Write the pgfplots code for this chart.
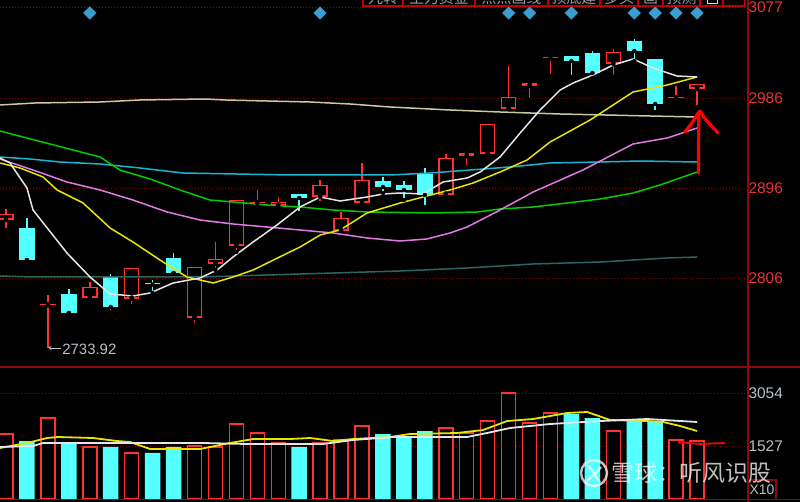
\documentclass[border=0pt]{standalone}
\usepackage{pgfplots}
\pgfplotsset{compat=1.18}
\usepackage{pgfplotstable}
\usepackage{fontspec}
\setmainfont{Liberation Sans}
\newfontfamily\cjk{Noto Sans CJK SC}
\usetikzlibrary{arrows.meta}

\definecolor{cred}{HTML}{FF3232}
\definecolor{ccyan}{HTML}{54FFFF}
\definecolor{gridred}{HTML}{8C0000}
\definecolor{frame}{HTML}{8C0A0A}
\definecolor{lblred}{HTML}{E83333}
\definecolor{lblgray}{HTML}{B8C0C8}
\definecolor{ma5}{HTML}{E6E6E6}
\definecolor{ma10}{HTML}{E6E600}
\definecolor{ma20}{HTML}{E07AE0}
\definecolor{ma30}{HTML}{00CC00}
\definecolor{ma60}{HTML}{18B4D4}
\definecolor{ma120}{HTML}{2C6464}
\definecolor{ma250}{HTML}{CACAA2}
\definecolor{dia}{HTML}{3A9FD0}

% candles: index open high low close
\pgfplotstableread{
i o h l c
0 2864 2875 2854 2870
2 2778.5 2789 2733.92 2779.5
4 2786 2802 2784 2797
6 2785 2816 2778 2816
9 2766 2817 2759 2817
10 2820 2842 2814 2825
11 2838 2884 2832 2884
12 2880.5 2894 2877 2881.5
13 2878 2887 2875 2882
15 2887 2904 2881 2899
16 2853 2872 2853 2866
17 2881 2921 2881 2904
21 2889 2930 2886 2926
22 2928 2931 2917 2931
23 2930 2960 2927 2960
24 2975 3018 2975 2987
25 2998 3001 2984 3001
26 3025.5 3026.5 3008 3026.5
29 3020 3035 3007 3032
32 2985.5 2998 2985.5 2986.5
33 2995 3000 2977 3000
}\redk
\pgfplotstableread{
i o h l c
1 2856 2866 2824 2824
3 2790 2795 2771 2771
5 2807 2810 2772 2777
7 2800.5 2804 2791 2799.5
8 2826 2831 2811 2811
14 2890 2890 2871 2886
18 2903 2907 2891 2897
19 2899 2903 2884 2894
20 2910 2916 2877 2889
27 3028 3028 3007 3023
28 3031 3033 3006 3011
30 3043 3045 3023 3033
31 3025 3025 2972 2980
}\cyank
% volumes
\pgfplotstableread{
i v
0 1872
2 2333
4 1498
6 1325
9 1526
10 1498
11 2160
12 1901
13 1613
15 1613
16 1699
17 2102
21 2045
22 1901
23 2246
24 3053
25 2189
26 2477
29 1958
32 1699
33 1670
}\redv
\pgfplotstableread{
i v
1 1670
3 1613
5 1498
7 1325
8 1498
14 1498
18 1872
19 1814
20 1958
27 2448
28 2333
30 2246
31 2246
}\cyanv

\pgfplotsset{kstyle/.style={scale only axis, width=748bp, xmin=-0.287, xmax=35.43,
  axis line style={draw=none}, xtick=\empty, major tick length=0pt,
  ymajorgrids, grid style={gridred, line width=0.9bp, dash pattern=on 1bp off 2bp},
  yticklabel pos=right, ytick pos=right,
  yticklabel style={font=\fontsize{15.5}{16}\selectfont, xshift=-3bp},
  clip=true},
  wick/.style={only marks, mark=none, error bars/.cd, y dir=plus, y explicit, error mark=none,
    error bar style={draw=#1, line width=1.5bp, line cap=butt}},
  body/.style={only marks, mark=none, error bars/.cd, y dir=plus, y explicit, error mark=none,
    error bar style={draw=#1, line width=15.5bp, line cap=butt}},
  inner/.style={only marks, mark=none, error bars/.cd, y dir=plus, y explicit, error mark=none,
    error bar style={draw=black, line width=12.5bp, line cap=butt}},
  maline/.style={#1, line width=1.5bp, mark=none}
}

\begin{document}
\begin{tikzpicture}
\fill[black] (0,0) rectangle (800bp,502bp);

% ---------------- price panel ----------------
\begin{axis}[kstyle, at={(0,135bp)}, anchor=south west, height=367bp,
  ymin=2717, ymax=3084, ytick={2806,2896,2986,3077}, yticklabels={2806,2896,2986,3077},
  yticklabel style={text=lblred}]
% wicks
\addplot[wick=cred] table[x=i, y=l, y error expr=\thisrow{h}-\thisrow{l}] {\redk};
\addplot[wick=ccyan] table[x=i, y=l, y error expr=\thisrow{h}-\thisrow{l}] {\cyank};
% bodies
\addplot[body=cred] table[x=i, y expr={min(\thisrow{o},\thisrow{c})}, y error expr={max(abs(\thisrow{c}-\thisrow{o}),1.5)}] {\redk};
\addplot[inner] table[x=i, y expr={min(\thisrow{o},\thisrow{c})+1.5}, y error expr={max(abs(\thisrow{c}-\thisrow{o})-3,0)}] {\redk};
\addplot[body=ccyan] table[x=i, y expr={min(\thisrow{o},\thisrow{c})}, y error expr={max(abs(\thisrow{c}-\thisrow{o}),1.5)}] {\cyank};

% moving averages
\addplot[maline=ma250] coordinates {(-0.29,2979) (1.38,2981) (4.49,2982) (6.40,2984) (9.50,2985) (10.46,2984) (12.46,2983) (14.52,2982) (16.43,2980) (18.34,2977) (21.2,2974) (23.59,2972) (26.46,2970) (30.75,2968) (33.0,2967)};
\addplot[maline=ma120] coordinates {(-0.29,2808) (1.29,2807) (9.26,2807) (18.82,2813) (22.02,2816) (25.17,2820) (28.37,2822) (31.57,2826) (33.0,2827)};
\addplot[maline=ma60] coordinates {(-0.29,2927) (1.15,2925) (2.58,2922) (4.49,2920) (6.40,2916) (8.45,2911) (13.56,2909) (18.34,2909) (20.25,2911) (22.16,2914) (24.07,2917) (25.98,2921) (28.37,2922) (30.28,2923) (33.0,2922)};
\addplot[maline=ma30] coordinates {(-0.29,2953) (2.10,2940) (4.49,2927) (5.44,2914) (6.88,2905) (8.31,2894) (9.74,2884) (10.84,2882) (12.46,2879) (14.04,2877) (15.62,2874) (17.24,2872) (20.39,2871) (22.49,2872) (23.59,2875) (25.17,2877) (26.79,2881) (28.37,2885) (29.94,2891) (31.23,2899) (33.0,2912)};
\addplot[maline=ma20] coordinates {(-0.29,2925) (1.29,2914) (2.91,2902) (4.49,2894) (6.06,2884) (7.69,2872) (9.26,2864) (10.84,2860) (12.46,2857) (14.04,2854) (15.62,2851) (17.24,2846) (18.82,2843) (20.1,2845) (21.2,2851) (22.02,2857) (23.59,2874) (25.17,2892) (26.79,2907) (27.55,2914) (29.94,2940) (31.57,2946) (33.0,2956)};
\addplot[maline=ma10] coordinates {(-0.29,2921) (0.67,2916) (1.77,2907) (2.44,2894) (3.68,2881) (4.97,2856) (6.06,2842) (7.35,2824) (8.64,2807) (9.89,2801) (10.84,2807) (11.80,2814) (14.04,2837) (15.0,2849) (15.95,2854) (17.24,2871) (18.82,2881) (20.1,2888) (21.2,2894) (22.30,2901) (23.59,2912) (24.88,2924) (25.98,2942) (27.89,2964) (29.94,2992) (31.57,2999) (33.0,3007)};
\addplot[maline=ma5] coordinates {(-0.29,2926) (0.19,2921) (1.0,2896) (1.29,2874) (2.91,2831) (4.01,2807) (4.97,2790) (6.06,2788) (6.88,2791) (7.98,2801) (9.26,2806) (10.08,2814) (10.84,2827) (11.80,2842) (12.94,2859) (14.04,2877) (15.0,2887) (15.95,2883) (17.24,2887) (18.0,2890) (18.82,2891) (19.91,2890) (20.87,2902) (22.02,2906) (22.64,2912) (23.59,2927) (24.55,2951) (25.50,2974) (26.46,2994) (27.08,3001) (28.03,3009) (28.99,3019) (29.94,3025) (30.90,3016) (32.04,3008) (33.0,3007)};

% signal diamonds
\addplot[only marks, mark=square*, mark size=5bp, mark options={rotate=45, fill=dia, draw=none}]
  coordinates {(4,3071) (15,3071) (24,3071) (25,3071) (27,3071) (30,3071) (31,3071) (32,3071) (33,3071)};

% lowest price annotation
\draw[lblgray, line width=0.9bp, -{Stealth[length=4bp,width=4bp]}] (axis cs:2.62,2736) -- (axis cs:1.98,2736);
\node[anchor=west, text=lblgray, font=\fontsize{15}{16}\selectfont, inner sep=0pt] at (axis cs:2.68,2735) {2733.92};

% hand-drawn red arrow
\draw[red, line width=3.2bp, line cap=round, line join=round] (axis cs:33.08,2972) -- (axis cs:33.06,2911);
\draw[red, line width=3.2bp, line cap=round, line join=round] (axis cs:33.08,2972) -- (axis cs:32.75,2961) -- (axis cs:32.42,2952);
\draw[red, line width=3.2bp, line cap=round, line join=round] (axis cs:33.14,2973) -- (axis cs:33.38,2965) -- (axis cs:34.0,2951);
\end{axis}

% ---------------- volume panel ----------------
\begin{axis}[kstyle, at={(0,3bp)}, anchor=south west, height=132bp,
  ymin=0, ymax=3802, ytick={1527,3054}, yticklabels={1527,3054},
  yticklabel style={text=lblgray}]
\addplot[ybar, bar width=15.5bp, bar shift=0pt, fill=ccyan, draw=none] table[x=i, y=v] {\cyanv};
\addplot[ybar, bar width=14bp, bar shift=0pt, fill=black, draw=cred, line width=1.5bp] table[x=i, y=v] {\redv};
\addplot[maline=ma10, line width=1.8bp] coordinates {(-0.29,1469) (1.0,1613) (1.96,1757) (2.48,1786) (4.15,1757) (5.30,1670) (5.92,1642) (6.88,1440) (9.26,1440) (10.70,1613) (11.80,1728) (13.56,1728) (14.52,1757) (15.62,1670) (16.57,1728) (18.34,1786) (19.29,1872) (21.54,1901) (22.78,1987) (23.93,2246) (25.17,2304) (26.79,2477) (27.75,2506) (28.85,2275) (30.61,2246) (31.38,2218) (32.19,2102) (33.0,1958)};
\addplot[maline=ma5, line width=1.8bp] coordinates {(-0.29,1498) (1.29,1526) (1.77,1613) (6.06,1613) (9.41,1613) (11.51,1584) (15.14,1584) (16.57,1699) (18.48,1786) (20.39,1786) (22.02,1786) (22.97,1901) (24.07,2045) (25.98,2160) (28.37,2246) (30.61,2304) (33.0,2218)};
\addplot[maline=red, line width=1.8bp] coordinates {(32.09,1642) (33.14,1584) (34.34,1613)};
\end{axis}

% ---------------- frame ----------------
\draw[frame, line width=1.8bp] (0,135bp) -- (800bp,135bp);
\draw[frame, line width=1.5bp] (0,2.3bp) -- (800bp,2.3bp);
\draw[frame, line width=1.5bp] (748bp,0) -- (748bp,502bp);
\draw[frame, line width=1.2bp] (748bp,22bp) -- (776bp,22bp) -- (776bp,2.3bp);
\node[text=lblgray, font=\fontsize{14}{15}\selectfont, inner sep=0pt] at (762bp,12bp) {X10};

% top toolbar (cut off at the top edge, as in the reference)
\begin{scope}
\clip (0,0) rectangle (800bp,502bp);
\foreach \a/\b/\t in {363/403/九转, 403/475/主力资金, 475/548/点点画线, 548/600/顶底建, 600/638/多头, 638/663/画, 663/700/预测, 723/745/{}}{
  \draw[red!75!black, line width=1.2bp] (\a bp,510bp) -- (\a bp,496bp) -- (\b bp,496bp) -- (\b bp,510bp);
  \node[anchor=base, text=gray!80!white, font=\cjk\fontsize{15}{16}\selectfont, inner sep=0pt] at ({(\a+\b)/2*1bp},498bp) {\t};
}
\draw[red!75!black, line width=1.2bp] (700bp,510bp) -- (700bp,496bp) -- (723bp,496bp);
\draw[white!85!black, line width=1bp] (707bp,510bp) rectangle (717bp,498bp);
\end{scope}

% watermark
\begin{scope}[opacity=0.75]
\draw[white, line width=2.4bp] (594bp,29bp) circle (13bp);
\draw[white, line width=2.2bp] (587bp,37bp) .. controls (594bp,31bp) and (594bp,27bp) .. (600bp,20bp);
\draw[white, line width=2.2bp] (587bp,21bp) .. controls (592bp,26bp) and (597bp,29bp) .. (601bp,35bp);
\node[anchor=west, text=white, font=\cjk\fontsize{23}{24}\selectfont, inner sep=0pt] at (611bp,29bp) {雪球：听风识股};
\end{scope}

\pgfresetboundingbox
\useasboundingbox (0,0) rectangle (800bp,502bp);
\end{tikzpicture}
\end{document}
